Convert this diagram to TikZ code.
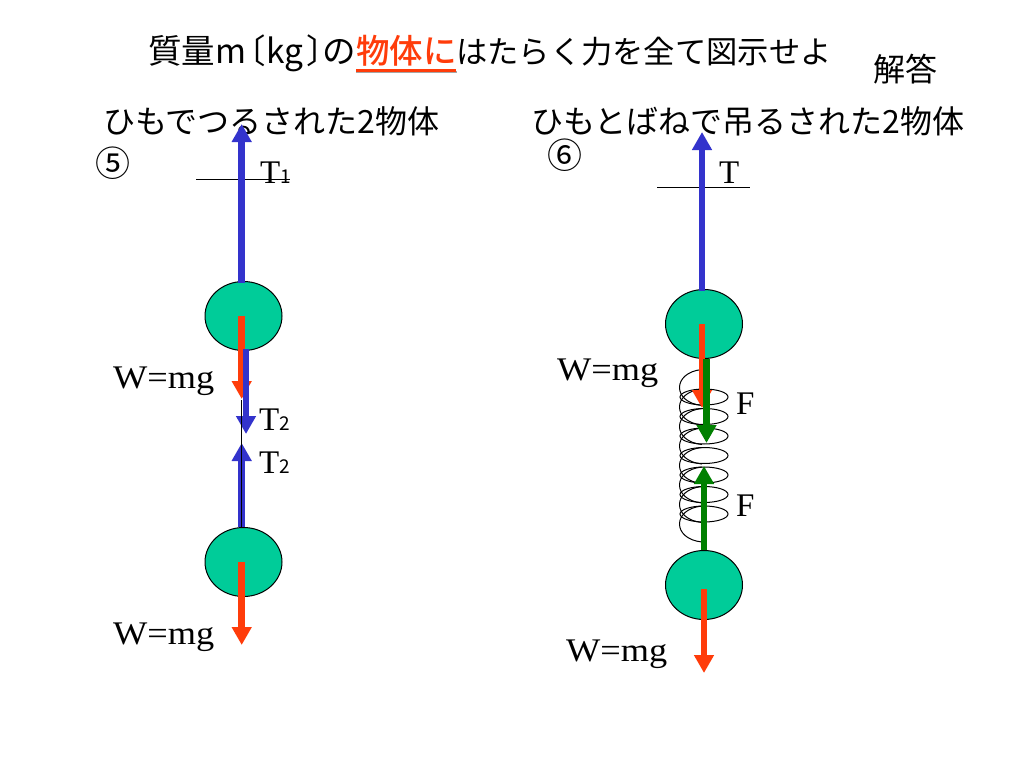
\documentclass[tikz,border=0pt]{standalone}
\usepackage{fontspec}
\setmainfont{Liberation Serif}
\newfontfamily\jpfont{Noto Sans CJK JP}[BoldFont={* Medium}]
\usetikzlibrary{shapes}
\usetikzlibrary{arrows.meta}
\definecolor{ballgreen}{RGB}{0,204,153}
\definecolor{forcered}{RGB}{255,60,10}
\definecolor{forceblue}{RGB}{51,51,204}
\definecolor{forcegreen}{RGB}{0,128,0}
\tikzset{
  ball/.style={ellipse, draw=black, line width=1, fill=ballgreen, minimum width=77, minimum height=69, inner sep=0},
  jptext/.style={font=\jpfont\fontsize{32}{36}\selectfont, inner sep=0, anchor=west},
  numtext/.style={font=\jpfont\fontsize{35}{40}\selectfont, inner sep=0, anchor=west},
  lbl/.style={font=\fontsize{33}{36}\selectfont, inner sep=0, anchor=west},
  weight/.style={lbl, xscale=1.1},
  force/.style={-{Triangle[length=18,width=19]}, line width=6.5},
  coil/.style={line width=1},
}
\newcommand{\smallsub}[1]{{\jpfont\fontsize{19}{20}\selectfont #1}}
\newcommand{\redpart}[1]{\rlap{\textcolor{black!35}{\rule[-9.5pt]{101pt}{2.5pt}}}\textcolor{forcered}{\rlap{\rule[-8pt]{100pt}{2.5pt}}\textbf{#1}}}
\begin{document}
\begin{tikzpicture}[x=1pt,y=-1pt]
\useasboundingbox (0,0) rectangle (1024,768);

\node (title) at (148,54) [jptext, font=\jpfont\fontsize{33.5}{36}\selectfont] {質量m\kern-.4em〔kg\kern.1em〕\kern-.52emの\redpart{物体に}{\fontsize{31.3}{36}\selectfont はたらく力を全て図示せよ}};
\node (answer) at (873,69) [jptext] {解答};
\node (headL) at (103,121) [jptext] {ひもでつるされた2物体};
\node (headR) at (531,121) [jptext] {ひもとばねで吊るされた2物体};
\node (numL) at (95,163) [numtext] {⑤};
\node (numR) at (547,155) [numtext] {⑥};

% left: two bodies on a string
\node (M1) at (243.5,316) [ball] {};
\node (M2) at (243.5,562) [ball] {};
\coordinate (U1) at (241.7,124);
\coordinate (R1) at (241.7,399);
\coordinate (D2) at (246,434);
\coordinate (U2) at (241.7,443);
\coordinate (R2) at (241.7,645);
\coordinate (C1a) at (196,179);
\coordinate (C1b) at (290,179);
\coordinate (S1) at (241.7,400);

\draw [line width=1] (C1a) -- (C1b);
\draw [force, forceblue] ([xshift=-1.8]M1.north) ++(0,2) -- (U1);
\draw [force, forcered] ([xshift=-1.8]M1.center) -- (R1);
\draw [force, forceblue] ([xshift=2.5]M1.south) ++(0,-2) -- (D2);
\draw [force, forceblue] ([xshift=-1.8]M2.north) -- (U2);
\draw [line width=1, black] (S1) -- ([xshift=-1.8]M2.north);
\draw [force, forcered] ([xshift=-1.8]M2.center) -- (R2);

\node (T1) at (260,173) [lbl] {T\smallsub{1}};
\node (T2a) at (259,420) [lbl] {T\smallsub{2}};
\node (T2b) at (259,463) [lbl] {T\smallsub{2}};
\node (W1) at (113,381) [weight] {W=mg};
\node (W2) at (113,637) [weight] {W=mg};

% right: two bodies on a string and a spring
\node (M3) at (704,324) [ball] {};
\node (M4) at (704,585) [ball] {};
\coordinate (U3) at (702,132);
\coordinate (R3) at (702,408);
\coordinate (D4) at (706.5,443);
\coordinate (U4) at (704,466);
\coordinate (R4) at (704,673);
\coordinate (C3a) at (657,187);
\coordinate (C3b) at (750,187);

\draw [line width=1] (C3a) -- (C3b);
\foreach \y in {397,416.5,436,455.5,475,494.5,514}
  \draw [coil] (704,\y) ellipse [x radius=24, y radius=8];
\foreach \y in {369.5,389,408.5,428,447.5,467,486.5,506}
  \draw [coil] (702,\y) .. controls (672,\y+3) and (672,\y+33) .. (702,\y+36);
\draw [force, forceblue] ([xshift=-2]M3.north) ++(0,2) -- (U3);
\draw [force, forcered] ([xshift=-2]M3.center) -- (R3);
\draw [force, forcegreen] ([xshift=2.5]M3.south) -- (D4);
\draw [force, forcegreen] (M4.north) -- (U4);
\draw [force, forcered] (M4.center) ++(0,4) -- (R4);

\node (T3) at (719,173) [lbl] {T};
\node (F1) at (736,404) [lbl] {F};
\node (F2) at (736,506) [lbl] {F};
\node (W3) at (557,373) [weight] {W=mg};
\node (W4) at (566,654) [weight] {W=mg};
\end{tikzpicture}
\end{document}
